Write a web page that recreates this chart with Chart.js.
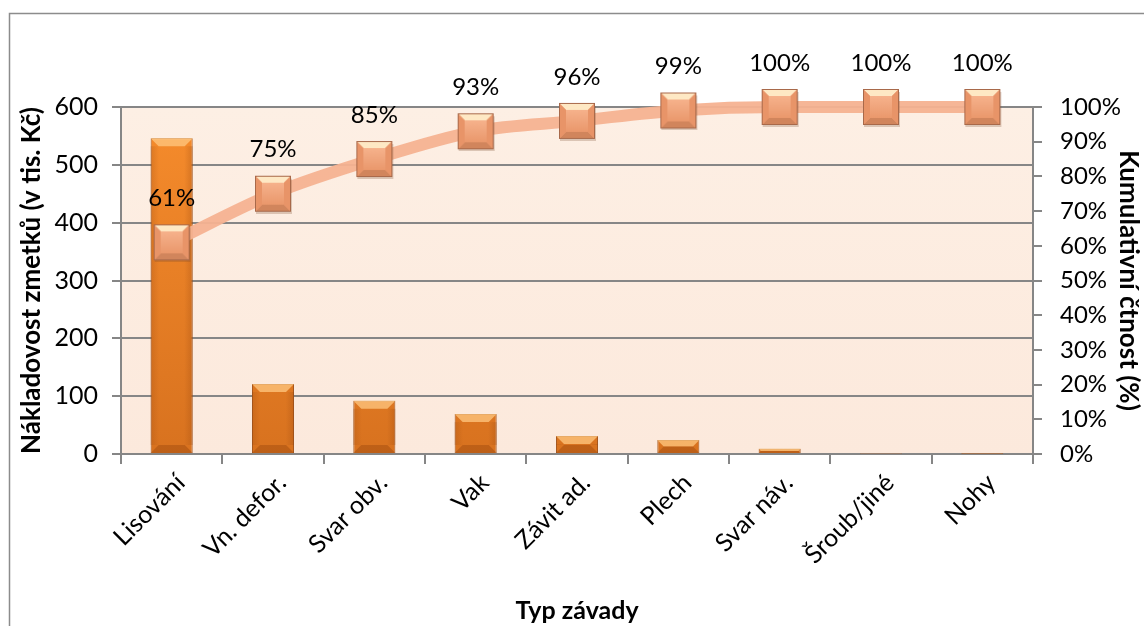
<!DOCTYPE html>
<html>
<head>
<meta charset="utf-8">
<script src="https://cdn.jsdelivr.net/npm/chart.js@4"></script>
<style>
  html, body { margin: 0; padding: 0; background: #fff; }
  #wrap { width: 1144px; height: 626px; position: relative; }
</style>
</head>
<body>
<div id="wrap"><canvas id="chart"></canvas></div>
<script>
/* ---------- data ---------- */
const categories = ['Lisování', 'Vn. defor.', 'Svar obv.', 'Vak', 'Závit ad.', 'Plech', 'Svar náv.', 'Šroub/jiné', 'Nohy'];
const costs      = [546, 121, 92, 69, 31, 24, 9, 1, 0.5];
const cumulative = [61, 75, 85, 93, 96, 99, 100, 100, 100];
const leftTitle  = 'Nákladovost zmetků (v tis. Kč)';
const rightTitle = 'Kumulativní čtnost (%)';
const xTitle     = 'Typ závady';

const FONT = 'Lato, "Open Sans", sans-serif';

/* ---------- bevelled square marker ---------- */
function makeMarker() {
  const w = 40, h = 40, s = 36, o = 2;
  const c = document.createElement('canvas');
  c.width = w; c.height = h;
  const g = c.getContext('2d');
  // soft shadow
  g.fillStyle = 'rgba(120,70,40,0.25)';
  g.fillRect(o + 1, o + 3, s, s);
  // base
  g.fillStyle = '#ee9e74';
  g.fillRect(o, o, s, s);
  const b = 7;
  // top bevel
  g.fillStyle = '#fee8c4';
  g.beginPath(); g.moveTo(o, o); g.lineTo(o + s, o); g.lineTo(o + s - b, o + b); g.lineTo(o + b, o + b); g.closePath(); g.fill();
  // bottom bevel
  g.fillStyle = '#d1855c';
  g.beginPath(); g.moveTo(o, o + s); g.lineTo(o + s, o + s); g.lineTo(o + s - b, o + s - b); g.lineTo(o + b, o + s - b); g.closePath(); g.fill();
  // sides
  g.fillStyle = '#e89468';
  g.beginPath(); g.moveTo(o, o); g.lineTo(o + b, o + b); g.lineTo(o + b, o + s - b); g.lineTo(o, o + s); g.closePath(); g.fill();
  g.beginPath(); g.moveTo(o + s, o); g.lineTo(o + s - b, o + b); g.lineTo(o + s - b, o + s - b); g.lineTo(o + s, o + s); g.closePath(); g.fill();
  // face
  const fg = g.createLinearGradient(0, o + b, 0, o + s - b);
  fg.addColorStop(0, '#f6b28c');
  fg.addColorStop(1, '#ea986c');
  g.fillStyle = fg;
  g.fillRect(o + b, o + b, s - 2 * b, s - 2 * b);
  g.strokeStyle = '#a8694a';
  g.lineWidth = 1;
  g.strokeRect(o + 0.5, o + 0.5, s - 1, s - 1);
  return c;
}
const marker = makeMarker();

/* ---------- plugins ---------- */
const frame = {
  id: 'frame',
  beforeDraw(chart) {
    const { ctx, chartArea: a } = chart;
    ctx.save();
    ctx.fillStyle = '#fff';
    ctx.fillRect(0, 0, chart.width, chart.height);
    ctx.strokeStyle = '#8c8c8c';
    ctx.lineWidth = 1.5;
    ctx.strokeRect(9.5, 13.5, 1200, 700);
    // plot background
    const bg = ctx.createLinearGradient(0, a.top, 0, a.bottom);
    bg.addColorStop(0, '#fdefe4');
    bg.addColorStop(1, '#fce9dc');
    ctx.fillStyle = bg;
    ctx.fillRect(a.left, a.top, a.right - a.left, a.bottom - a.top);
    ctx.restore();
  }
};

const barBevel = {
  id: 'barBevel',
  afterDatasetDraw(chart, args) {
    if (args.index !== 0) return;
    const ctx = chart.ctx;
    ctx.save();
    args.meta.data.forEach(bar => {
      const { x, y, base, width } = bar.getProps(['x', 'y', 'base', 'width'], true);
      const l = x - width / 2, r = x + width / 2, h = base - y;
      if (h < 1) return;
      const b = Math.min(8, h / 2);
      ctx.fillStyle = 'rgba(255,200,130,0.75)';
      ctx.beginPath(); ctx.moveTo(l, y); ctx.lineTo(r, y); ctx.lineTo(r - b, y + b); ctx.lineTo(l + b, y + b); ctx.closePath(); ctx.fill();
      ctx.fillStyle = 'rgba(140,60,10,0.35)';
      ctx.beginPath(); ctx.moveTo(l, base); ctx.lineTo(r, base); ctx.lineTo(r - b, base - b); ctx.lineTo(l + b, base - b); ctx.closePath(); ctx.fill();
      const sg = ctx.createLinearGradient(l, 0, r, 0);
      sg.addColorStop(0, 'rgba(150,70,15,0.25)');
      sg.addColorStop(0.2, 'rgba(150,70,15,0)');
      sg.addColorStop(0.8, 'rgba(150,70,15,0)');
      sg.addColorStop(1, 'rgba(150,70,15,0.3)');
      ctx.fillStyle = sg;
      ctx.fillRect(l, y + b, width, h - 2 * b);
    });
    ctx.restore();
  }
};

const pctLabels = {
  id: 'pctLabels',
  afterDatasetsDraw(chart) {
    const ctx = chart.ctx;
    const meta = chart.getDatasetMeta(1);
    ctx.save();
    ctx.fillStyle = '#000';
    ctx.font = '24px ' + FONT;
    ctx.textAlign = 'center';
    ctx.textBaseline = 'middle';
    meta.data.forEach((pt, i) => ctx.fillText(cumulative[i] + '%', pt.x, pt.y - 44));
    ctx.restore();
  }
};

// vertical orange gradient for the bars
function barFill(context) {
  const a = context.chart.chartArea;
  if (!a) return '#ea8026';
  const g = context.chart.ctx.createLinearGradient(0, a.top, 0, a.bottom);
  g.addColorStop(0, '#f68c2c');
  g.addColorStop(1, '#d8721f');
  return g;
}

/* ---------- chart ---------- */
new Chart(document.getElementById('chart'), {
  data: {
    labels: categories,
    datasets: [
      {
        type: 'bar',
        data: costs,
        yAxisID: 'y',
        order: 2,
        backgroundColor: barFill,
        borderColor: '#a3531a',
        borderWidth: 1,
        categoryPercentage: 1,
        barPercentage: 0.415
      },
      {
        type: 'line',
        data: cumulative,
        yAxisID: 'y1',
        order: 1,
        borderColor: 'rgba(245,178,145,0.95)',
        borderWidth: 12,
        cubicInterpolationMode: 'monotone',
        pointStyle: marker,
        pointRadius: 20,
        clip: false
      }
    ]
  },
  options: {
    responsive: true,
    maintainAspectRatio: false,
    animation: false,
    layout: { padding: { left: 16, right: 0, top: 107, bottom: 0 } },
    plugins: { legend: { display: false }, tooltip: { enabled: false } },
    scales: {
      x: {
        offset: true,
        afterFit: s => { s.height = 172; },
        grid: { offset: true, drawOnChartArea: false, color: '#868686', lineWidth: 2, tickLength: 10 },
        border: { color: '#868686', width: 2 },
        ticks: { color: '#000', font: { family: FONT, size: 25 }, maxRotation: 45, minRotation: 45, padding: 4, labelOffset: 9 },
        title: { display: true, text: xTitle, color: '#000', font: { family: FONT, size: 25, weight: 'bold' }, padding: { top: 0, bottom: 0 } }
      },
      y: {
        position: 'left',
        min: 0, max: 600,
        afterFit: s => { s.width = 105; },
        ticks: { stepSize: 100, color: '#000', font: { family: FONT, size: 25 }, padding: 14 },
        grid: { color: '#868686', lineWidth: 2, tickLength: 9 },
        border: { color: '#868686', width: 2 },
        title: { display: true, text: leftTitle, color: '#000', font: { family: FONT, size: 26, weight: 'bold' }, padding: { top: 0, bottom: 0 } }
      },
      y1: {
        position: 'right',
        min: 0, max: 100,
        afterFit: s => { s.width = 111; },
        ticks: { stepSize: 10, color: '#000', font: { family: FONT, size: 24 }, padding: 18, callback: v => v + '%' },
        grid: { drawOnChartArea: false, color: '#868686', lineWidth: 2, tickLength: 9 },
        border: { color: '#868686', width: 2 },
        title: { display: true, text: rightTitle, color: '#000', font: { family: FONT, size: 26, weight: 'bold' }, padding: { top: 0, bottom: 0 } }
      }
    }
  },
  plugins: [frame, barBevel, pctLabels]
});
</script>
</body>
</html>
